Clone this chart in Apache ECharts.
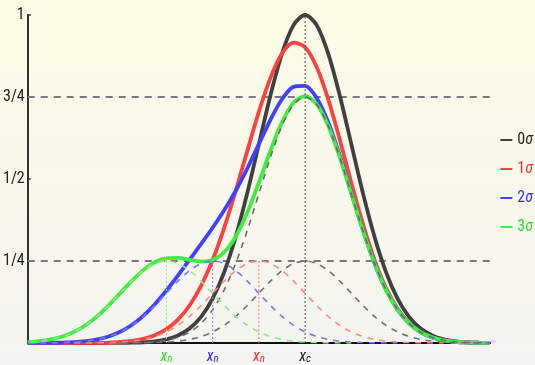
<!DOCTYPE html>
<html><head><meta charset="utf-8">
<script src="https://cdn.jsdelivr.net/npm/echarts@6/dist/echarts.min.js"></script>
<style>html,body{margin:0;padding:0;}#c{width:535px;height:365px;background:linear-gradient(to bottom,#fcfce6 0%,#f4f4f1 100%);}</style>
</head><body><div id="c"></div>
<script>
// x positions in units of sigma relative to x_c
const xs = [-6,-5.75,-5.5,-5.25,-5,-4.75,-4.5,-4.25,-4,-3.75,-3.5,-3.25,-3,-2.75,-2.5,-2.25,-2,-1.75,-1.5,-1.25,-1,-0.75,-0.5,-0.25,0,0.25,0.5,0.75,1,1.25,1.5,1.75,2,2.25,2.5,2.75,3,3.25,3.5,3.75,4];
const curve0 = [0,0,0,0,0,0,0,0.0001,0.0003,0.0009,0.0022,0.0051,0.0111,0.0228,0.0439,0.0796,0.1353,0.2163,0.3247,0.4578,0.6065,0.7548,0.8825,0.9692,1,0.9692,0.8825,0.7548,0.6065,0.4578,0.3247,0.2163,0.1353,0.0796,0.0439,0.0228,0.0111,0.0051,0.0022,0.0009,0.0003];
const curve1 = [0,0,0,0,0.0001,0.0002,0.0005,0.0014,0.0031,0.0064,0.0126,0.0237,0.0421,0.0712,0.1142,0.1742,0.2531,0.3509,0.4641,0.5857,0.7049,0.8084,0.8825,0.9156,0.9016,0.8414,0.7431,0.6202,0.4887,0.3633,0.2545,0.1679,0.1043,0.0610,0.0335,0.0173,0.0084,0.0038,0.0016,0.0007,0.0003];
const curve2 = [0.0001,0.0002,0.0005,0.0013,0.0028,0.0057,0.0110,0.0200,0.0341,0.0548,0.0828,0.1183,0.1599,0.2058,0.2536,0.3020,0.3515,0.4045,0.4641,0.5321,0.6065,0.6806,0.7431,0.7810,0.7838,0.7468,0.6729,0.5718,0.4577,0.3447,0.2440,0.1624,0.1016,0.0597,0.0330,0.0171,0.0083,0.0038,0.0016,0.0007,0.0003];
const curve3 = [0.0028,0.0057,0.0110,0.0199,0.0338,0.0541,0.0812,0.1146,0.1519,0.1894,0.2222,0.2461,0.2583,0.2594,0.2536,0.2484,0.2531,0.2767,0.3247,0.3975,0.4887,0.5860,0.6729,0.7326,0.7528,0.7282,0.6624,0.5663,0.4550,0.3434,0.2435,0.1622,0.1015,0.0597,0.0330,0.0171,0.0083,0.0038,0.0016,0.0007,0.0003];
const mainComponent = [0,0,0,0,0,0,0,0.0001,0.0003,0.0007,0.0016,0.0038,0.0083,0.0171,0.0330,0.0597,0.1015,0.1622,0.2435,0.3434,0.4549,0.5661,0.6619,0.7269,0.75,0.7269,0.6619,0.5661,0.4549,0.3434,0.2435,0.1622,0.1015,0.0597,0.0330,0.0171,0.0083,0.0038,0.0016,0.0007,0.0003];
const smallOffsets = [-4,-3.75,-3.5,-3.25,-3,-2.75,-2.5,-2.25,-2,-1.75,-1.5,-1.25,-1,-0.75,-0.5,-0.25,0,0.25,0.5,0.75,1,1.25,1.5,1.75,2,2.25,2.5,2.75,3,3.25,3.5,3.75,4];
const smallComponent = [0.0001,0.0002,0.0005,0.0013,0.0028,0.0057,0.0110,0.0199,0.0338,0.0541,0.0812,0.1145,0.1516,0.1887,0.2206,0.2423,0.25,0.2423,0.2206,0.1887,0.1516,0.1145,0.0812,0.0541,0.0338,0.0199,0.0110,0.0057,0.0028,0.0013,0.0005,0.0002,0.0001];
const smallCentres = [0,-1,-2,-3];
const markerTops = [1,0.25,0.25,0.25];
const seriesNames = ['0σ','1σ','2σ','3σ'];
const refLevels = [0.25,0.75];
const yTickLabels = {0.25:'1/4',0.5:'1/2',0.75:'3/4',1:'1'};
const xLabelValues = [0,-1,-2,-3];
const xLabelMain = ['x','x','x','x'];
const xLabelSub = ['c','n','n','n'];

const solidColors = ['#404040','#ff4040','#4040ff','#40ee40'];
const textColors = ['#222222','#ff3030','#3030ff','#30e030'];
const dashColors = ['#707070','#ff8888','#7878ff','#88f088'];
const dotColors = ['#555555','#ff7070','#8080ff','#80ee80'];
const FONT = "'Roboto Condensed','DejaVu Sans Condensed',sans-serif";

const curves = [curve0,curve1,curve2,curve3];
const pts = (x,y)=>x.map((v,i)=>[v,y[i]]);

const series = [];
refLevels.forEach(l=>{
  series.push({type:'line',data:[[-6,l],[4,l]],symbol:'none',silent:true,z:1,
    lineStyle:{color:'#7a7a7a',width:2,type:[7,6]}});
});
curves.forEach((c,i)=>{
  series.push({name:seriesNames[i],type:'line',data:pts(xs,c),symbol:'none',smooth:0.3,z:3,
    itemStyle:{color:solidColors[i]},lineStyle:{color:solidColors[i],width:3.8}});
});
series.push({type:'line',data:pts(xs,mainComponent),symbol:'none',smooth:0.3,z:4,silent:true,
  lineStyle:{color:'#6a6a6a',width:1.6,type:[6,6]}});
smallCentres.forEach((c,i)=>{
  series.push({type:'line',data:smallOffsets.map((o,k)=>[c+o,smallComponent[k]]),symbol:'none',smooth:0.3,z:4,silent:true,
    lineStyle:{color:dashColors[i],width:1.6,type:[6,6]}});
  series.push({type:'line',data:[[c,0],[c,markerTops[i]]],symbol:'none',z:4,silent:true,
    lineStyle:{color:dotColors[i],width:1,type:[2,2]}});
});

const rich = {};
xLabelValues.forEach((v,i)=>{
  rich['m'+i] = {color:textColors[i],fontSize:16,fontStyle:'italic',fontFamily:FONT,lineHeight:18,verticalAlign:'bottom'};
  rich['s'+i] = {color:textColors[i],fontSize:11,fontStyle:'italic',fontFamily:FONT,lineHeight:18,verticalAlign:'bottom',padding:[6,0,0,0]};
});
const legendRich = {};
textColors.forEach((c,i)=>{
  legendRich['d'+i] = {color:c,fontSize:16,fontFamily:FONT};
  legendRich['s'+i] = {color:c,fontSize:16,fontFamily:FONT,fontStyle:'italic'};
});

const chart = echarts.init(document.getElementById('c'),null,{renderer:'canvas'});
chart.setOption({
  animation:false,
  backgroundColor:'transparent',
  grid:{left:27,right:45,top:15,bottom:22,containLabel:false},
  xAxis:{type:'value',min:-6,max:4,interval:1,
    axisLine:{show:true,onZero:false,lineStyle:{color:'#111',width:2}},
    axisTick:{show:false},splitLine:{show:false},
    axisLabel:{margin:4,rich:rich,formatter:(v)=>{
      const i = xLabelValues.indexOf(v);
      if(i<0) return '';
      return '{m'+i+'|'+xLabelMain[i]+'}{s'+i+'|'+xLabelSub[i]+'}';
    }}},
  yAxis:{type:'value',min:0,max:1,interval:0.25,
    axisLine:{show:true,onZero:false,lineStyle:{color:'#333',width:2}},
    axisTick:{show:true,inside:true,length:3,lineStyle:{color:'#333',width:1.5}},
    splitLine:{show:false},
    axisLabel:{margin:3,color:'#222',fontSize:16,fontFamily:FONT,formatter:(v)=>yTickLabels[v]||''}},
  legend:{orient:'vertical',right:2,top:132,padding:0,itemWidth:12,itemHeight:2,itemGap:13,icon:'rect',align:'left',
    textStyle:{fontSize:16,fontFamily:FONT,rich:legendRich},
    formatter:(n)=>{const i=seriesNames.indexOf(n);return '{d'+i+'|'+n.slice(0,1)+'}{s'+i+'|'+n.slice(1)+'}';},
    data:seriesNames},
  series:series
});
</script></body></html>
